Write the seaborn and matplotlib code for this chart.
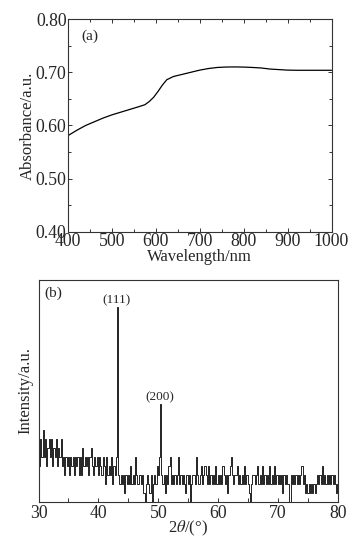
import numpy as np
import pandas as pd
import matplotlib
matplotlib.use("Agg")
import matplotlib.pyplot as plt
from matplotlib.ticker import MultipleLocator
import seaborn as sns

# ---- Panel (a): UV-Vis absorbance ----
wavelength = [400, 420, 440, 460, 480, 500, 520, 540, 560, 575, 585, 595, 605, 615,
              625, 640, 660, 680, 700, 720, 740, 760, 780, 800, 820, 840, 860, 880,
              900, 920, 940, 960, 980, 1000]
absorbance = [0.581, 0.591, 0.600, 0.607, 0.614, 0.620, 0.625, 0.630, 0.635, 0.639,
              0.645, 0.653, 0.664, 0.676, 0.686, 0.692, 0.696, 0.700, 0.704, 0.707,
              0.709, 0.7098, 0.7100, 0.7097, 0.709, 0.708, 0.706, 0.705, 0.704,
              0.7037, 0.7037, 0.7037, 0.7037, 0.7037]

# ---- Panel (b): XRD pattern (2theta from 30 to 80, step 0.2) ----
two_theta_start, two_theta_stop = 30.0, 80.0
intensity = [
    6, 4, 7, 5, 8,   # 30
    5, 7, 4, 6, 7,   # 31
    5, 7, 4, 6, 5,   # 32
    7, 4, 6, 5, 7,   # 33
    4, 5, 3, 5, 4,   # 34
    5, 3, 5, 4, 5,   # 35
    3, 5, 4, 5, 3,   # 36
    5, 3, 6, 4, 5,   # 37
    4, 5, 3, 5, 6,   # 38
    4, 3, 5, 4, 5,   # 39
    3, 5, 4, 3, 5,   # 40
    4, 2, 5, 3, 4,   # 41
    3, 5, 2, 4, 3,   # 42
    5, 21.7, 3, 2, 3,  # 43
    2, 3, 1, 3, 2,   # 44
    3, 2, 4, 2, 3,   # 45
    2, 5, 3, 2, 3,   # 46
    3, 2, 3, 1, 0,   # 47
    2, 3, 2, 1, 3,   # 48
    0, 2, 3, 2, 4,   # 49
    3, 5, 10.9, 3, 2,  # 50
    3, 1, 3, 2, 4,   # 51
    5, 2, 3, 2, 3,   # 52
    2, 3, 5, 2, 3,   # 53
    2, 3, 2, 1, 3,   # 54
    2, 3, 0, 2, 3,   # 55
    3, 2, 5, 3, 2,   # 56
    3, 4, 2, 3, 4,   # 57
    3, 2, 4, 2, 3,   # 58
    2, 3, 2, 4, 2,   # 59
    3, 2, 3, 2, 4,   # 60
    3, 2, 3, 1, 3,   # 61
    4, 5, 3, 2, 3,   # 62
    3, 4, 2, 3, 2,   # 63
    3, 2, 4, 2, 3,   # 64
    2, 1, 0, 2, 3,   # 65
    3, 2, 3, 4, 2,   # 66
    3, 2, 4, 2, 3,   # 67
    2, 3, 2, 4, 2,   # 68
    3, 2, 4, 2, 3,   # 69
    2, 3, 2, 3, 1,   # 70
    3, 2, 3, 2, 2,   # 71
    0, 3, 2, 3, 2,   # 72
    3, 2, 3, 2, 3,   # 73
    4, 2, 3, 1, 2,   # 74
    1, 2, 1, 2, 1,   # 75
    2, 1, 2, 3, 2,   # 76
    3, 2, 4, 2, 3,   # 77
    2, 3, 2, 3, 2,   # 78
    3, 2, 3, 2, 1,   # 79
    2,               # 80
]
peak_labels = ["(111)", "(200)"]
peak_positions = [43.2, 50.4]
peak_heights = [21.7, 10.9]

two_theta = np.round(np.linspace(two_theta_start, two_theta_stop,
                                 len(intensity)), 2)

sns.set_style("ticks")
plt.rcParams["font.family"] = ["Liberation Serif", "DejaVu Serif"]
plt.rcParams["mathtext.fontset"] = "stix"
plt.rcParams["xtick.direction"] = "in"
plt.rcParams["ytick.direction"] = "in"

W, H = 359, 541
fig = plt.figure(figsize=(W / 100, H / 100), dpi=100)

def rect(l, t, r, b):
    return [l / W, 1 - b / H, (r - l) / W, (b - t) / H]

TICK_FS = 12.8
LABEL_FS = 12

# Panel (a)
ax1 = fig.add_axes(rect(68, 19, 331.5, 232))
df_a = pd.DataFrame({"wl": wavelength, "abs": absorbance})
sns.lineplot(data=df_a, x="wl", y="abs", ax=ax1, color="black", lw=0.9)
ax1.set_xlim(400, 1000)
ax1.set_ylim(0.40, 0.80)
ax1.xaxis.set_major_locator(MultipleLocator(100))
ax1.xaxis.set_minor_locator(MultipleLocator(50))
ax1.yaxis.set_major_locator(MultipleLocator(0.10))
ax1.yaxis.set_minor_locator(MultipleLocator(0.05))
ax1.yaxis.set_major_formatter(matplotlib.ticker.FormatStrFormatter("%.2f"))
ax1.tick_params(which="both", top=True, right=True, labelsize=TICK_FS, pad=1,
                width=0.7, color="#333333")
ax1.tick_params(which="major", length=3)
ax1.tick_params(which="minor", length=2.5)
ax1.set_xlabel("Wavelength/nm", fontsize=LABEL_FS, labelpad=-1)
ax1.set_ylabel("Absorbance/a.u.", fontsize=LABEL_FS, labelpad=0)
ax1.text(0.05, 0.92, "(a)", transform=ax1.transAxes, fontsize=11,
         ha="left", va="center")
for s in ax1.spines.values():
    s.set_linewidth(0.8)
    s.set_color("#333333")

# Panel (b)
ax2 = fig.add_axes(rect(38.5, 280, 338, 502))
df_b = pd.DataFrame({"tt": two_theta, "I": intensity})
sns.lineplot(data=df_b, x="tt", y="I", ax=ax2, color="black", lw=0.6,
             drawstyle="steps-mid")
ax2.set_xlim(30, 80)
ax2.set_ylim(0, 24.7)
ax2.xaxis.set_major_locator(MultipleLocator(10))
ax2.xaxis.set_minor_locator(MultipleLocator(5))
ax2.set_yticks([])
ax2.tick_params(which="both", labelsize=TICK_FS, pad=2, width=0.7,
                color="#333333", length=3)
ax2.set_xlabel(r"2$\theta$/(°)", fontsize=LABEL_FS, labelpad=-2)
ax2.set_ylabel("Intensity/a.u.", fontsize=LABEL_FS, labelpad=4)
ax2.text(0.02, 0.94, "(b)", transform=ax2.transAxes, fontsize=11,
         ha="left", va="center")
for lab, px, ph in zip(peak_labels, peak_positions, peak_heights):
    ax2.text(px - 0.2, ph + 0.1, lab, fontsize=9.5, ha="center", va="bottom")
for s in ax2.spines.values():
    s.set_linewidth(0.8)
    s.set_color("#333333")

fig.savefig("out.png", dpi=100)
